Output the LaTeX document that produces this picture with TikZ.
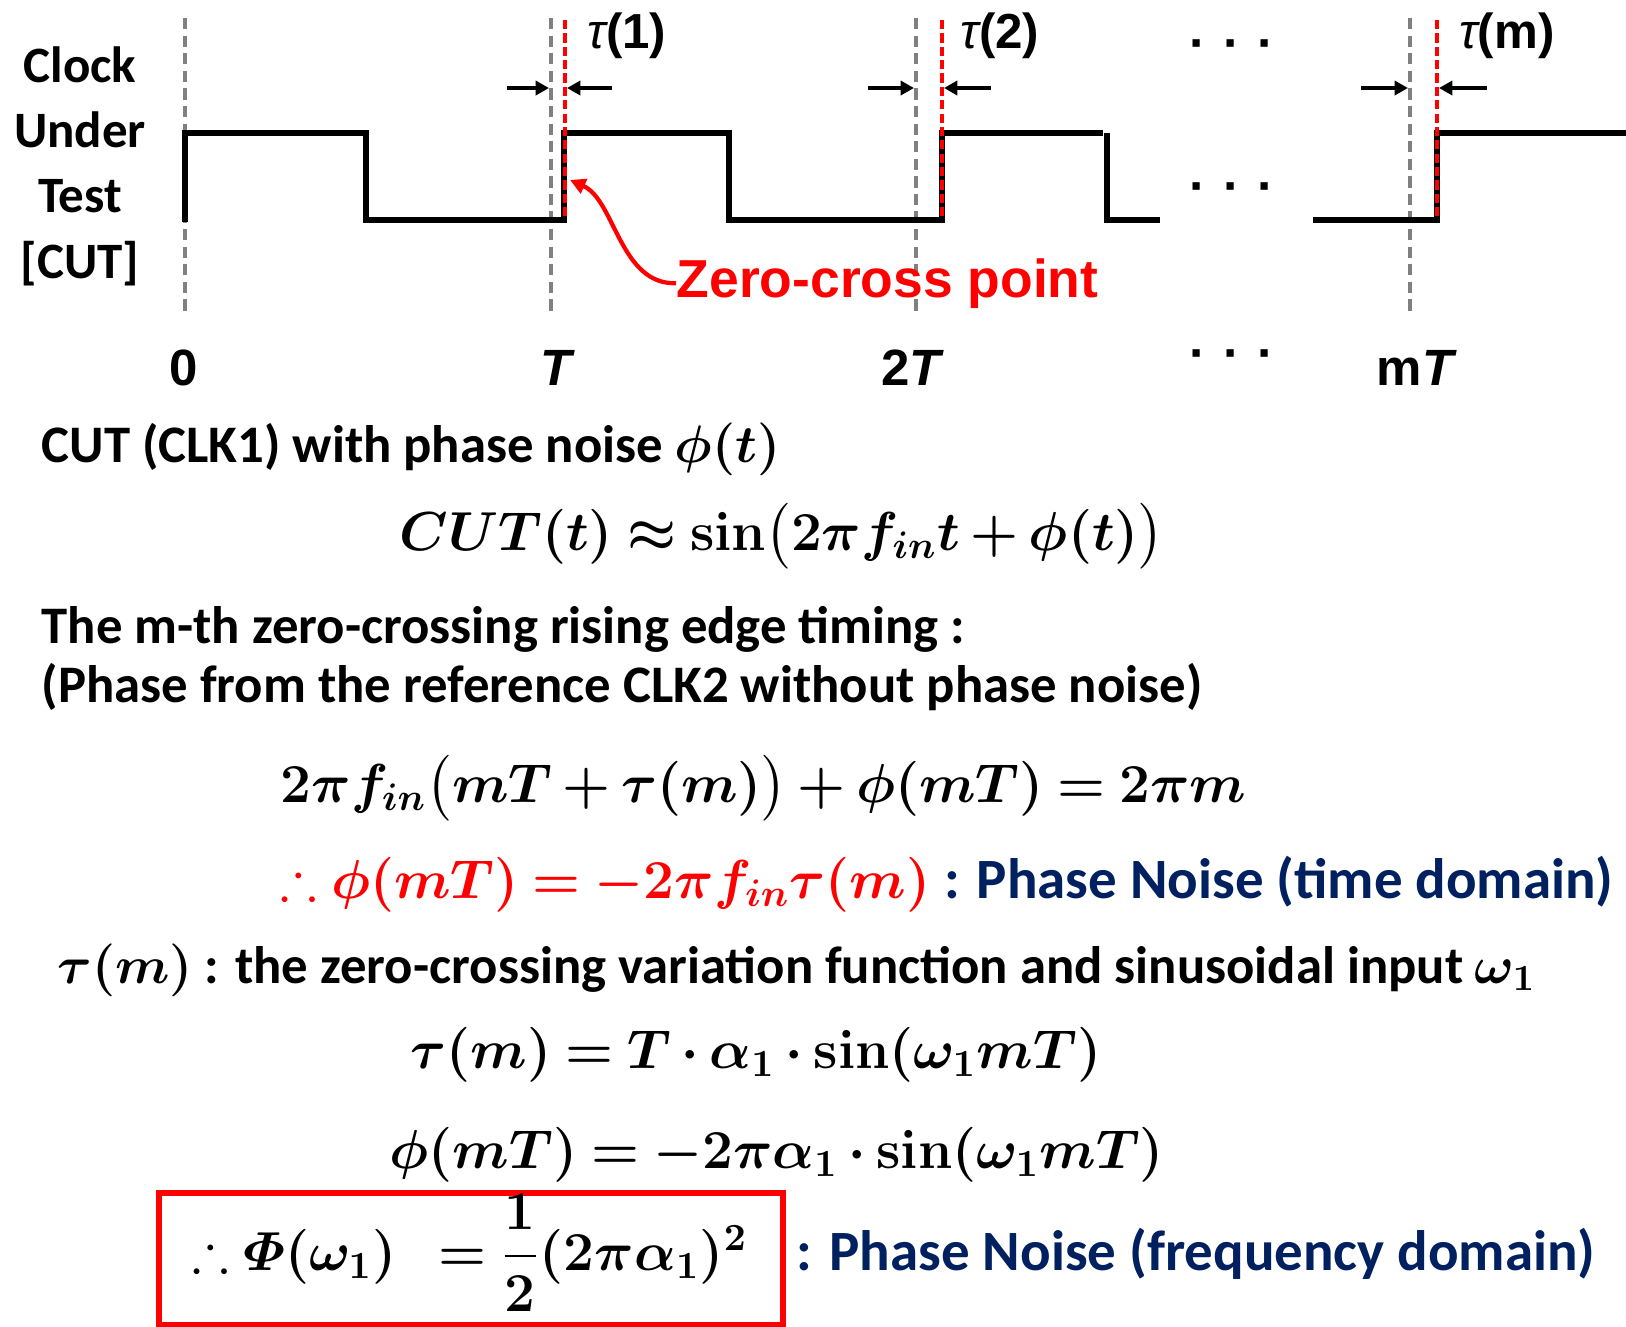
\RequirePackage{fix-cm}
\documentclass[tikz,border=0pt]{standalone}
\usepackage{amsmath,amssymb}
\usepackage[no-math]{fontspec}
\setmainfont{Carlito}
\newfontfamily\arialfont{Liberation Sans}
\usetikzlibrary{arrows.meta}
\definecolor{navy}{HTML}{002060}
\definecolor{tickgray}{HTML}{808080}
\medmuskip=3mu plus 2mu minus 3mu
\thickmuskip=4mu plus 3mu
\begin{document}
\boldmath
\begin{tikzpicture}[x=0.01cm, y=-0.01cm,
        signal/.style={line width=1.5pt},
        tickline/.style={tickgray, line width=1pt, dash pattern=on 3.2pt off 1.8pt},
        zcline/.style={red, line width=1pt, dash pattern=on 2.6pt off 1.2pt},
        flecha/.style={-{Triangle[length=3.8pt,width=4pt]}, line width=1pt},
        zcflecha/.style={red, -{Triangle[length=4.4pt,width=4.4pt]}, line width=1.2pt},
        tlabel/.style={font=\arialfont\fontsize{14.5}{18.5}\selectfont\bfseries, inner sep=0pt, anchor=base},
        taulabel/.style={font=\arialfont\fontsize{14}{16}\selectfont\bfseries, inner sep=0pt, anchor=base},
        body/.style={font=\fontsize{15}{18}\selectfont\bfseries, inner sep=0pt, anchor=base west},
        note/.style={font=\fontsize{16.2}{19}\selectfont\bfseries, navy, inner sep=0pt, anchor=base west},
        eqn/.style={font=\fontsize{15.6}{19}\selectfont, inner sep=0pt, anchor=base west}
    ]
    \useasboundingbox (0,0) rectangle (1626,1326);

    \draw [tickline] (185,18) -- (185,313);
    \draw [tickline] (551,18) -- (551,313);
    \draw [tickline] (916,18) -- (916,313);
    \draw [tickline] (1410,18) -- (1410,313);

    \draw [signal] (185,222) -- (185,133) -- (366,133) -- (366,220) -- (564,220) -- (564,133) -- (729,133) -- (729,220) -- (942,220) -- (942,133) -- (1103,133);
    \draw [signal] (1107,133) -- (1107,220) -- (1160,220);
    \draw [signal] (1313,220) -- (1437,220) -- (1437,133) -- (1626,133);

    \draw [zcline] (565,20) -- (565,220);
    \draw [zcline] (942,20) -- (942,220);
    \draw [zcline] (1437,20) -- (1437,220);

    \coordinate (g1) at (549,88);
    \coordinate (r1) at (567,88);
    \coordinate (g1t) at (507,88);
    \coordinate (r1t) at (612,88);
    \coordinate (g2) at (914,88);
    \coordinate (r2) at (944,88);
    \coordinate (g2t) at (868,88);
    \coordinate (r2t) at (991,88);
    \coordinate (gm) at (1408,88);
    \coordinate (rm) at (1439,88);
    \coordinate (gmt) at (1361,88);
    \coordinate (rmt) at (1487,88);
    \draw [flecha] (g1t) -- (g1);
    \draw [flecha] (r1t) -- (r1);
    \draw [flecha] (g2t) -- (g2);
    \draw [flecha] (r2t) -- (r2);
    \draw [flecha] (gmt) -- (gm);
    \draw [flecha] (rmt) -- (rm);

    \node (tau1) [taulabel] at (627,48) {{\mdseries\itshape τ}(1)};
    \node (tau2) [taulabel] at (1000,48) {{\mdseries\itshape τ}(2)};
    \node (taum) [taulabel] at (1507,48) {{\mdseries\itshape τ}(m)};

    \node (cut) [font=\fontsize{14.5}{18.5}\selectfont\bfseries, align=center, inner sep=0pt, anchor=base] at (80,278) {Clock\\Under\\Test\\{[CUT]}};

    \node (t0) [tlabel] at (184,385) {0};
    \node (t1) [tlabel] at (556,385) {\itshape T};
    \node (t2) [tlabel] at (911,385) {2\itshape T};
    \node (tm) [tlabel] at (1415,385) {m\itshape T};

    \node (dtop) [tlabel] at (1232,60) {·\,\,·\,\,·};
    \node (dmid) [tlabel] at (1232,203) {·\,\,·\,\,·};
    \node (dbot) [tlabel] at (1232,370) {·\,\,·\,\,·};

    \node (zc) [tlabel, font=\arialfont\fontsize{15.2}{18}\selectfont\bfseries, red, anchor=base west] at (676,297) {Zero-cross point};
    \coordinate (edge1) at (570,180);
    \draw [zcflecha] (zc.west) .. controls (620,285) and (615,200) .. (edge1);

    \node (l1) [body] at (41,462) {CUT (CLK1) with phase noise $\phi(t)$};
    \node (e1) [eqn] at (399,550) {$CUT(t) \approx \sin\bigl(2\pi f_{in} t + \phi(t)\bigr)$};
    \node (l2) [body] at (41,643) {The m-th zero-crossing rising edge timing :};
    \node (l3) [body] at (41,702) {(Phase from the reference CLK2 without phase noise)};
    \node (e2) [eqn] at (280,802) {$2\pi f_{in}\bigl(mT + \tau(m)\bigr) + \phi(mT) = 2\pi m$};
    \node (e3) [eqn, red] at (280,898) {$\mathord{\therefore}\;\phi(mT) = -2\pi f_{in}\tau(m)$};
    \node (pn1) [note, xshift=0.12cm] at (e3.base east) {: Phase Noise (time domain)};
    \node (l4) [body] at (57,983) {$\tau(m)$ : the zero-crossing variation function and sinusoidal input $\omega_1$};
    \node (e4) [eqn] at (410,1068) {$\tau(m) = T\cdot\alpha_1\cdot\sin(\omega_1 mT)$};
    \node (e5) [eqn] at (389,1168) {$\phi(mT) = -2\pi\alpha_1\cdot\sin(\omega_1 mT)$};

    \node (phibox) [draw=red, line width=1.7pt, minimum width=6.24cm, minimum height=1.32cm, anchor=north west] at (156,1190) {};
    \node (e6) [eqn] at (192,1270) {$\mathord{\therefore}\;\varPhi(\omega_1)\;\; = \dfrac{1}{2}(2\pi\alpha_1)^2$};
    \node (pn2) [note] at (796,1270) {: Phase Noise (frequency domain)};
\end{tikzpicture}
\end{document}
